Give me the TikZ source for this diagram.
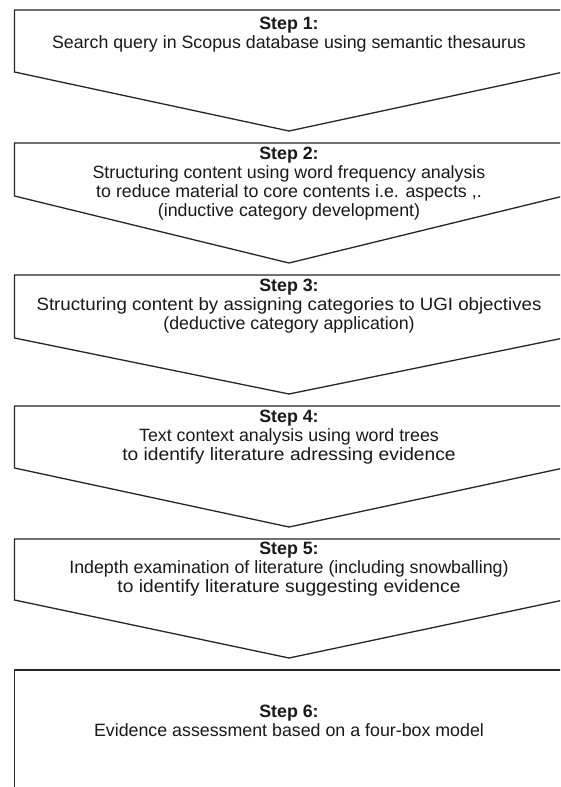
\documentclass[tikz,border=0pt]{standalone}
\usepackage{graphicx}
\usepackage{fontspec}
\setmainfont{Liberation Sans}
% a text line stretched horizontally by a factor
\newcommand{\widerline}[2]{\scalebox{#1}[1]{#2}}
\begin{document}
\begin{tikzpicture}[x=1pt,y=-1pt,
  stepshape/.style={draw=black!85, line width=1.3pt, line join=miter, fill=white},
  steptext/.style={align=center, inner sep=0pt, text=black!90,
    font=\fontsize{17.8}{19}\selectfont}]
\useasboundingbox (0,0) rectangle (560,787);
\clip (0,0) rectangle (560,787);
\fill[white] (0,0) rectangle (560,787);

% arrow-shaped step boxes: top, side depth, tip
\foreach \t/\s/\p in {10/72/131, 143/196/263, 275/338/394, 406/468/527, 539/600/658}{
  \draw[stepshape] (14.5,\t) -- (563.5,\t) -- (563.5,\s) -- (289,\p) -- (14.5,\s) -- cycle;
}
% final box, open to the bottom and right
\draw[stepshape] (14.5,800) -- (14.5,670) -- (575,670);

\node[steptext] (s1) at (289,34.5) {\textbf{Step 1:}\\Search query in Scopus database using semantic thesaurus};
\node[steptext] (s2) at (289,183.5) {\textbf{Step 2:}\\Structuring content using word frequency analysis\\to reduce material to core contents i.e. aspects ,.\\(inductive category development)};
\node[steptext] (s3) at (289,306) {\textbf{Step 3:}\\\widerline{1.05}{Structuring content by assigning categories to UGI objectives}\\(deductive category application)};
\node[steptext] (s4) at (289,437) {\textbf{Step 4:}\\Text context analysis using word trees\\\widerline{1.08}{to identify literature adressing evidence}};
\node[steptext] (s5) at (289,569) {\textbf{Step 5:}\\Indepth examination of literature (including snowballing)\\\widerline{1.08}{to identify literature suggesting evidence}};
\node[steptext] (s6) at (289,721) {\textbf{Step 6:}\\Evidence assessment based on a four-box model};
\end{tikzpicture}
\end{document}
